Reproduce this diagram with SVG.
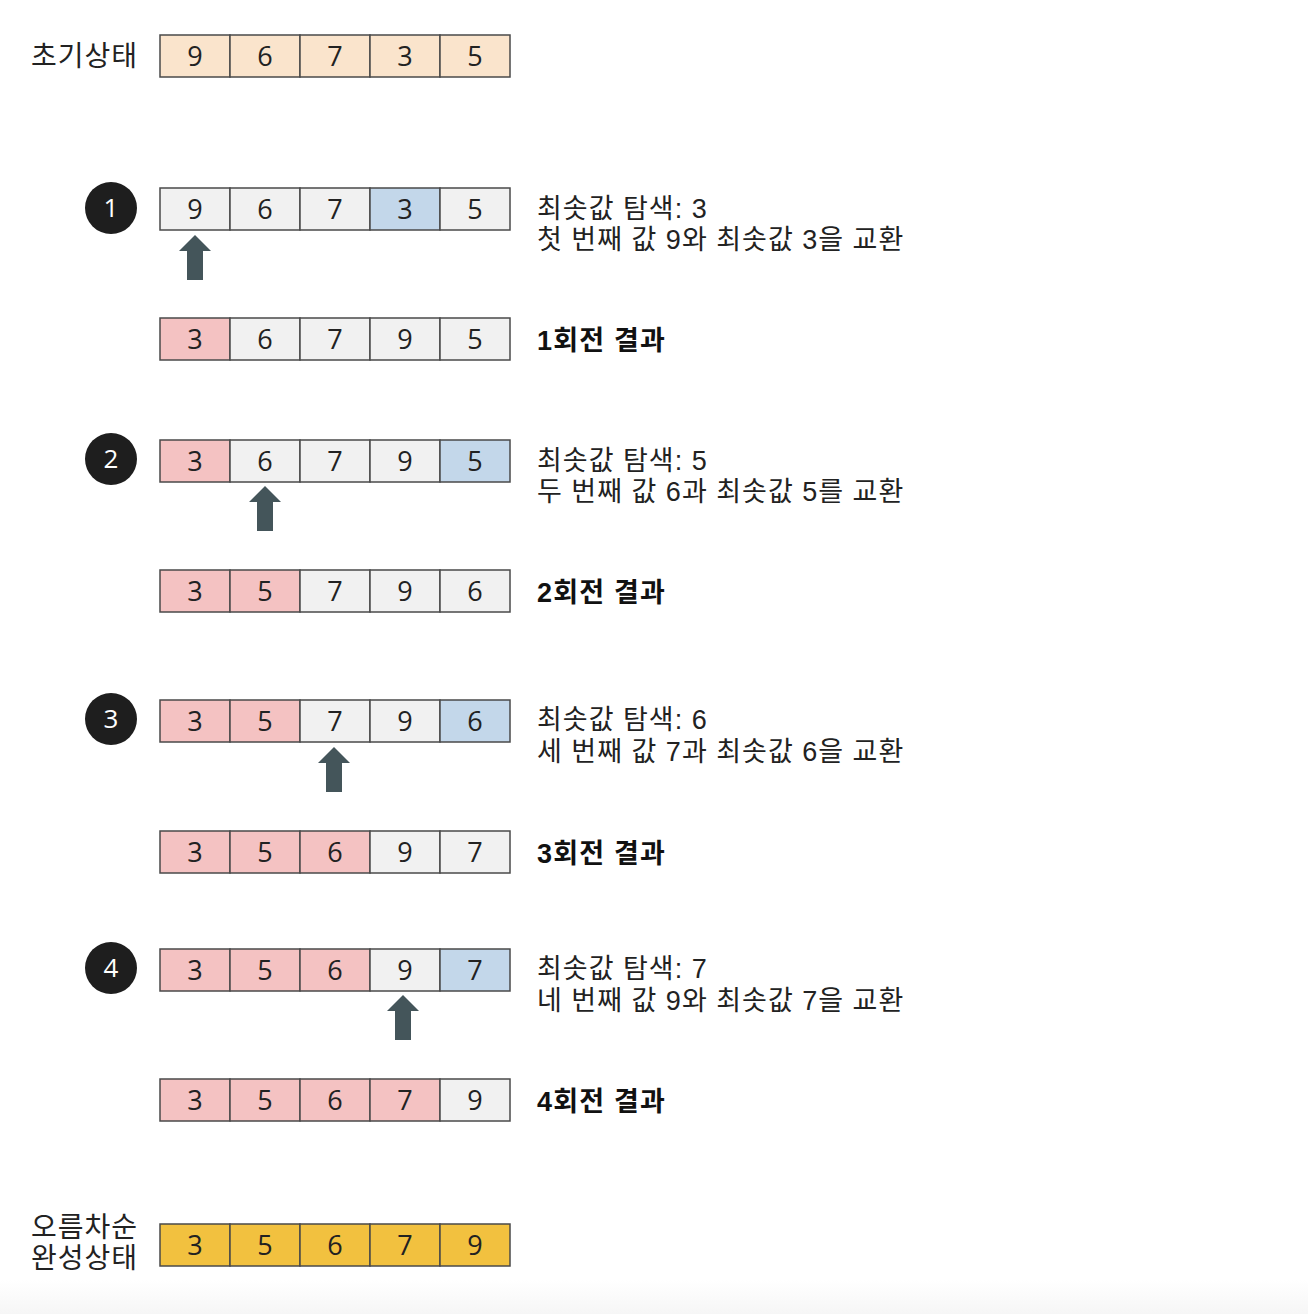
<svg xmlns="http://www.w3.org/2000/svg" width="1308" height="1314" viewBox="0 0 1308 1314">
<style>
.c{stroke:#4a4a4a;stroke-width:1.5}
.w{fill:#f1f1f1}.o{fill:#fae4cc}.b{fill:#c3d7ea}.p{fill:#f4c2c2}.y{fill:#f2c13f}
.d{font-family:"Open Sans","Liberation Sans",sans-serif;font-size:27px;fill:#222;text-anchor:middle}
.t{font-family:"Liberation Sans","Noto Sans CJK KR",sans-serif;font-size:27px;letter-spacing:1px;fill:#222}
.bt{font-family:"Liberation Sans","Noto Sans CJK KR",sans-serif;font-size:27px;letter-spacing:1.2px;font-weight:bold;fill:#111}
.l{font-family:"Noto Sans CJK KR",sans-serif;font-size:28px;letter-spacing:1px;fill:#222;text-anchor:end}
.n{font-family:"Open Sans","Liberation Sans",sans-serif;font-size:26px;fill:#fff;text-anchor:middle}
.a{fill:#44555a}
</style>
<defs>
<linearGradient id="bg" x1="0" y1="0" x2="0" y2="1"><stop offset="0" stop-color="#fff"/><stop offset="1" stop-color="#f6f6f6"/></linearGradient>
<path id="arr" d="M0 0 L16 16 L8 16 L8 45 L-8 45 L-8 16 L-16 16 Z"/>
</defs>
<rect width="1308" height="1314" fill="#fff"/>
<rect y="1280" width="1308" height="34" fill="url(#bg)"/>

<g id="init">
<text class="l" x="138" y="66">초기상태</text>
<rect class="c o" x="160" y="35" width="70" height="42"/><rect class="c o" x="230" y="35" width="70" height="42"/><rect class="c o" x="300" y="35" width="70" height="42"/><rect class="c o" x="370" y="35" width="70" height="42"/><rect class="c o" x="440" y="35" width="70" height="42"/>
<text class="d" x="195" y="66">9</text><text class="d" x="265" y="66">6</text><text class="d" x="335" y="66">7</text><text class="d" x="405" y="66">3</text><text class="d" x="475" y="66">5</text>
</g>

<g id="step1">
<circle cx="111" cy="208" r="26" fill="#1e1e1e"/><text class="n" x="111" y="217">1</text>
<rect class="c w" x="160" y="188" width="70" height="42"/><rect class="c w" x="230" y="188" width="70" height="42"/><rect class="c w" x="300" y="188" width="70" height="42"/><rect class="c b" x="370" y="188" width="70" height="42"/><rect class="c w" x="440" y="188" width="70" height="42"/>
<text class="d" x="195" y="219">9</text><text class="d" x="265" y="219">6</text><text class="d" x="335" y="219">7</text><text class="d" x="405" y="219">3</text><text class="d" x="475" y="219">5</text>
<text class="t" x="537" y="218">최솟값 탐색: 3</text>
<text class="t" x="537" y="249">첫 번째 값 9와 최솟값 3을 교환</text>
</g>
<g id="res1">
<rect class="c p" x="160" y="318" width="70" height="42"/><rect class="c w" x="230" y="318" width="70" height="42"/><rect class="c w" x="300" y="318" width="70" height="42"/><rect class="c w" x="370" y="318" width="70" height="42"/><rect class="c w" x="440" y="318" width="70" height="42"/>
<text class="d" x="195" y="349">3</text><text class="d" x="265" y="349">6</text><text class="d" x="335" y="349">7</text><text class="d" x="405" y="349">9</text><text class="d" x="475" y="349">5</text>
<text class="bt" x="537" y="350">1회전 결과</text>
</g>

<g id="step2">
<circle cx="111" cy="459" r="26" fill="#1e1e1e"/><text class="n" x="111" y="468">2</text>
<rect class="c p" x="160" y="440" width="70" height="42"/><rect class="c w" x="230" y="440" width="70" height="42"/><rect class="c w" x="300" y="440" width="70" height="42"/><rect class="c w" x="370" y="440" width="70" height="42"/><rect class="c b" x="440" y="440" width="70" height="42"/>
<text class="d" x="195" y="471">3</text><text class="d" x="265" y="471">6</text><text class="d" x="335" y="471">7</text><text class="d" x="405" y="471">9</text><text class="d" x="475" y="471">5</text>
<text class="t" x="537" y="470">최솟값 탐색: 5</text>
<text class="t" x="537" y="501">두 번째 값 6과 최솟값 5를 교환</text>
</g>
<g id="res2">
<rect class="c p" x="160" y="570" width="70" height="42"/><rect class="c p" x="230" y="570" width="70" height="42"/><rect class="c w" x="300" y="570" width="70" height="42"/><rect class="c w" x="370" y="570" width="70" height="42"/><rect class="c w" x="440" y="570" width="70" height="42"/>
<text class="d" x="195" y="601">3</text><text class="d" x="265" y="601">5</text><text class="d" x="335" y="601">7</text><text class="d" x="405" y="601">9</text><text class="d" x="475" y="601">6</text>
<text class="bt" x="537" y="602">2회전 결과</text>
</g>

<g id="step3">
<circle cx="111" cy="719" r="26" fill="#1e1e1e"/><text class="n" x="111" y="728">3</text>
<rect class="c p" x="160" y="700" width="70" height="42"/><rect class="c p" x="230" y="700" width="70" height="42"/><rect class="c w" x="300" y="700" width="70" height="42"/><rect class="c w" x="370" y="700" width="70" height="42"/><rect class="c b" x="440" y="700" width="70" height="42"/>
<text class="d" x="195" y="731">3</text><text class="d" x="265" y="731">5</text><text class="d" x="335" y="731">7</text><text class="d" x="405" y="731">9</text><text class="d" x="475" y="731">6</text>
<text class="t" x="537" y="729">최솟값 탐색: 6</text>
<text class="t" x="537" y="761">세 번째 값 7과 최솟값 6을 교환</text>
</g>
<g id="res3">
<rect class="c p" x="160" y="831" width="70" height="42"/><rect class="c p" x="230" y="831" width="70" height="42"/><rect class="c p" x="300" y="831" width="70" height="42"/><rect class="c w" x="370" y="831" width="70" height="42"/><rect class="c w" x="440" y="831" width="70" height="42"/>
<text class="d" x="195" y="862">3</text><text class="d" x="265" y="862">5</text><text class="d" x="335" y="862">6</text><text class="d" x="405" y="862">9</text><text class="d" x="475" y="862">7</text>
<text class="bt" x="537" y="863">3회전 결과</text>
</g>

<g id="step4">
<circle cx="111" cy="968" r="26" fill="#1e1e1e"/><text class="n" x="111" y="977">4</text>
<rect class="c p" x="160" y="949" width="70" height="42"/><rect class="c p" x="230" y="949" width="70" height="42"/><rect class="c p" x="300" y="949" width="70" height="42"/><rect class="c w" x="370" y="949" width="70" height="42"/><rect class="c b" x="440" y="949" width="70" height="42"/>
<text class="d" x="195" y="980">3</text><text class="d" x="265" y="980">5</text><text class="d" x="335" y="980">6</text><text class="d" x="405" y="980">9</text><text class="d" x="475" y="980">7</text>
<text class="t" x="537" y="978">최솟값 탐색: 7</text>
<text class="t" x="537" y="1010">네 번째 값 9와 최솟값 7을 교환</text>
</g>
<g id="res4">
<rect class="c p" x="160" y="1079" width="70" height="42"/><rect class="c p" x="230" y="1079" width="70" height="42"/><rect class="c p" x="300" y="1079" width="70" height="42"/><rect class="c p" x="370" y="1079" width="70" height="42"/><rect class="c w" x="440" y="1079" width="70" height="42"/>
<text class="d" x="195" y="1110">3</text><text class="d" x="265" y="1110">5</text><text class="d" x="335" y="1110">6</text><text class="d" x="405" y="1110">7</text><text class="d" x="475" y="1110">9</text>
<text class="bt" x="537" y="1111">4회전 결과</text>
</g>

<g id="final">
<text class="l"><tspan x="138" y="1237">오름차순</tspan><tspan x="138" y="1268">완성상태</tspan></text>
<rect class="c y" x="160" y="1224" width="70" height="42"/><rect class="c y" x="230" y="1224" width="70" height="42"/><rect class="c y" x="300" y="1224" width="70" height="42"/><rect class="c y" x="370" y="1224" width="70" height="42"/><rect class="c y" x="440" y="1224" width="70" height="42"/>
<text class="d" x="195" y="1255">3</text><text class="d" x="265" y="1255">5</text><text class="d" x="335" y="1255">6</text><text class="d" x="405" y="1255">7</text><text class="d" x="475" y="1255">9</text>
</g>

<g id="connectors" class="a">
<use href="#arr" x="195" y="235"/>
<use href="#arr" x="265" y="486"/>
<use href="#arr" x="334" y="747"/>
<use href="#arr" x="403" y="995"/>
</g>
</svg>
